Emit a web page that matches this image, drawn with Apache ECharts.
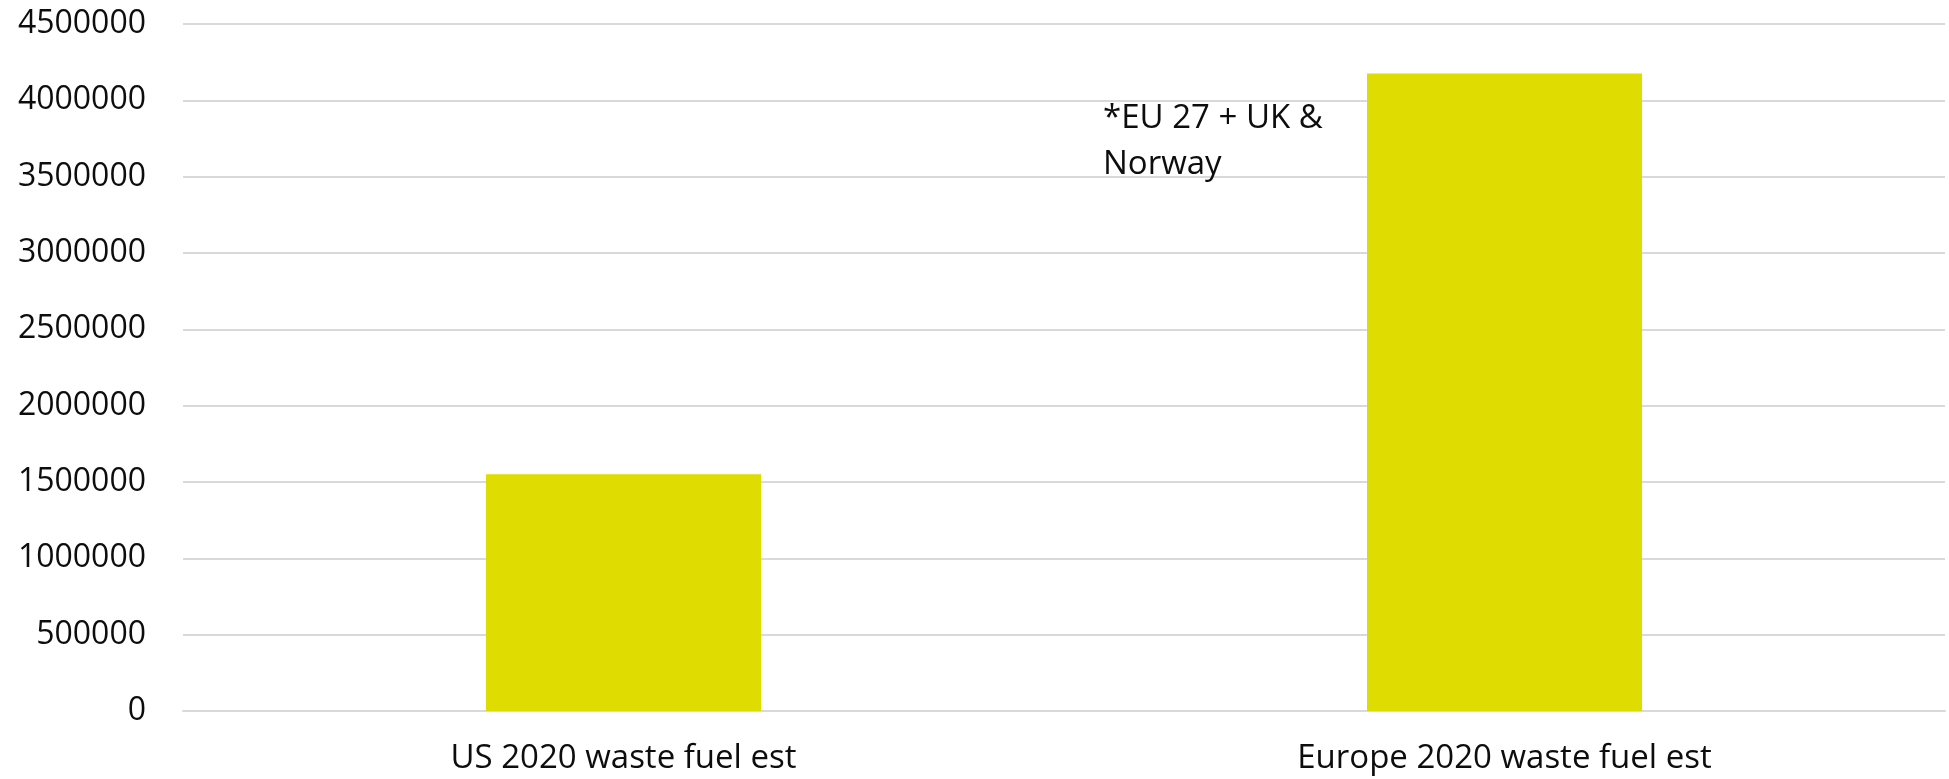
<!DOCTYPE html>
<html>
<head>
<meta charset="utf-8">
<script src="https://cdn.jsdelivr.net/npm/echarts@6/dist/echarts.min.js"></script>
<style>
  html, body { margin: 0; padding: 0; background: #fff; }
  #chart { width: 1949px; height: 779px; }
</style>
</head>
<body>
<div id="chart"></div>
<script>
// Estimated 2020 waste fuel volumes, US vs Europe
const categories = ['US 2020 waste fuel est', 'Europe 2020 waste fuel est'];
const wasteFuel = [1550000, 4175000];
const yTicks = { min: 0, max: 4500000, interval: 500000 };
const footnote = '*EU 27 + UK &\nNorway';

const chart = echarts.init(document.getElementById('chart'), null, { renderer: 'canvas' });

chart.setOption({
  animation: false,
  backgroundColor: '#ffffff',
  textStyle: { fontFamily: 'Open Sans' },
  grid: { left: 183, right: 4, top: 24, bottom: 68, containLabel: false },
  xAxis: {
    type: 'category',
    data: categories,
    axisLine: { show: true, lineStyle: { color: '#d9d9d9', width: 2 } },
    axisTick: { show: false },
    axisLabel: { color: '#0d0d0d', fontSize: 33, margin: 31, fontFamily: 'Open Sans' }
  },
  yAxis: {
    type: 'value',
    min: yTicks.min,
    max: yTicks.max,
    interval: yTicks.interval,
    axisLine: { show: false },
    axisTick: { show: false },
    splitLine: { lineStyle: { color: '#d9d9d9', width: 2 } },
    axisLabel: {
      color: '#0d0d0d',
      fontSize: 32,
      margin: 37,
      fontFamily: 'Open Sans',
      formatter: (v) => String(v)
    }
  },
  series: [{
    type: 'bar',
    data: wasteFuel,
    barWidth: 275,
    itemStyle: { color: '#dedc00' }
  }],
  graphic: [{
    type: 'text',
    left: 1103,
    top: 96,
    z: 100,
    style: {
      text: footnote,
      fontSize: 33,
      lineHeight: 46,
      fontFamily: 'Open Sans',
      fill: '#0d0d0d'
    }
  }]
});
</script>
</body>
</html>
